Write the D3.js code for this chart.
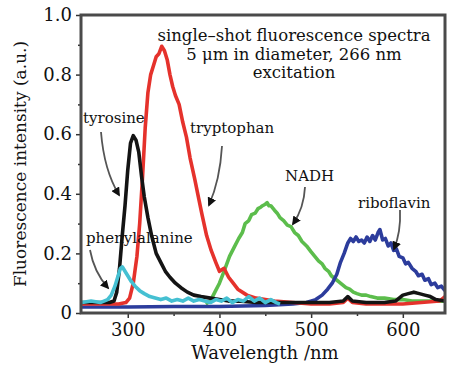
<!DOCTYPE html>
<html>
<head>
<meta charset="utf-8">
<script src="https://cdn.jsdelivr.net/npm/d3@7"></script>
<style>
  body { margin: 0; background: #fff; }
  text { font-family: "DejaVu Serif", serif; fill: #111; }
</style>
</head>
<body>
<svg id="chart" width="455" height="367"></svg>
<script>
// spectra (wavelength nm, intensity a.u.)
const tyrosineNm  = [250,260,270,280,285,288,291,294,297,300,303,306,309,312,315,318,322,326,331,336,341,346,352,358,365,372,380,390,400,410,420,440,460,480,500,520,535,540,545,560,580,592,600,606,612,618,624,630,636,646];
const tyrosineVal = [0.035,0.035,0.035,0.035,0.04,0.07,0.15,0.26,0.36,0.48,0.57,0.595,0.58,0.54,0.46,0.39,0.32,0.26,0.2,0.17,0.14,0.12,0.1,0.085,0.07,0.06,0.055,0.05,0.045,0.04,0.04,0.035,0.035,0.035,0.035,0.035,0.04,0.055,0.04,0.035,0.035,0.04,0.06,0.065,0.07,0.065,0.06,0.055,0.045,0.04];

const tryptophanNm  = [250,270,290,298,302,306,310,313,316,319,322,325,328,331,334,337,340,343,346,349,352,356,360,364,368,373,377,381,386,391,396,400,405,410,415,420,430,440,450,460,480,500,520,535,540,545,560,580,600,620,640,646];
const tryptophanVal = [0.03,0.03,0.03,0.035,0.05,0.1,0.19,0.3,0.45,0.62,0.74,0.8,0.83,0.86,0.87,0.895,0.88,0.85,0.8,0.76,0.73,0.7,0.64,0.59,0.52,0.45,0.39,0.33,0.26,0.21,0.17,0.14,0.15,0.12,0.1,0.08,0.06,0.05,0.045,0.04,0.035,0.03,0.03,0.035,0.05,0.035,0.03,0.03,0.03,0.035,0.04,0.055];

const phenylNm  = [250,260,270,278,282,286,289,292,294,297,300,304,308,313,318,324,330,336,342,348,354,360,366,372,378,384,390,396,402,408,414,420,426,432,438,444,450,456,462,466];
const phenylVal = [0.035,0.04,0.035,0.045,0.06,0.09,0.12,0.15,0.155,0.14,0.125,0.105,0.09,0.075,0.065,0.055,0.05,0.045,0.05,0.04,0.045,0.04,0.05,0.04,0.045,0.04,0.035,0.045,0.04,0.05,0.035,0.045,0.04,0.055,0.04,0.05,0.035,0.045,0.035,0.03];

const nadhNm  = [385,390,395,400,405,411,416,421,425,428,432,435,439,442,445,447,450,452,454,456,460,463,466,470,474,478,482,486,490,495,500,504,508,512,515,519,522,526,530,534,538,542,546,550,555,560,565,572,580,590,600,610,620,632,646];
const nadhVal = [0.03,0.04,0.07,0.1,0.14,0.19,0.22,0.25,0.27,0.3,0.31,0.33,0.335,0.35,0.355,0.36,0.365,0.37,0.36,0.36,0.345,0.335,0.32,0.31,0.295,0.29,0.27,0.26,0.24,0.225,0.205,0.19,0.175,0.165,0.15,0.14,0.125,0.115,0.105,0.095,0.085,0.08,0.07,0.065,0.06,0.06,0.055,0.05,0.05,0.045,0.045,0.04,0.04,0.04,0.04];

const riboNm  = [250,300,350,400,450,480,495,505,512,518,523,528,532,536,540,543,546,549,552,555,558,561,564,567,570,573,575,578,581,584,587,590,593,596,600,603,606,610,614,617,621,624,628,631,635,638,642,646];
const riboVal = [0.02,0.02,0.022,0.022,0.025,0.03,0.035,0.045,0.06,0.08,0.1,0.13,0.17,0.2,0.235,0.25,0.24,0.255,0.24,0.245,0.235,0.255,0.24,0.26,0.245,0.27,0.28,0.245,0.25,0.225,0.235,0.21,0.215,0.19,0.185,0.165,0.17,0.15,0.14,0.125,0.13,0.11,0.115,0.095,0.1,0.085,0.09,0.075];

const xTicks = [300, 400, 500, 600];
const xMinor = [350, 450, 550];
const yTicks = [0, 0.2, 0.4, 0.6, 0.8, 1.0];
const yMinor = [0.1, 0.3, 0.5, 0.7, 0.9];

const svg = d3.select("#chart");
const m = { left: 81, top: 15, right: 445, bottom: 313 };

const x = d3.scaleLinear().domain([249, 646]).range([m.left, m.right]);
const y = d3.scaleLinear().domain([0, 1]).range([m.bottom, m.top]);

const zip = (a, b) => a.map((v, i) => [v, b[i]]);
const line = d3.line().x(d => x(d[0])).y(d => y(d[1]));

svg.append("clipPath").attr("id", "plot")
  .append("rect").attr("x", m.left).attr("y", m.top)
  .attr("width", m.right - m.left).attr("height", m.bottom - m.top);

const series = [
  { nm: nadhNm, v: nadhVal, color: "#5cbd4c" },
  { nm: riboNm, v: riboVal, color: "#2c3c9c" },
  { nm: tryptophanNm, v: tryptophanVal, color: "#e5322c" },
  { nm: tyrosineNm, v: tyrosineVal, color: "#141414" },
  { nm: phenylNm, v: phenylVal, color: "#45c0d2" }
];

svg.append("g").attr("clip-path", "url(#plot)")
  .selectAll("path")
  .data(series)
  .enter()
  .append("path")
  .attr("d", s => line(zip(s.nm, s.v)))
  .attr("fill", "none")
  .attr("stroke", s => s.color)
  .attr("stroke-width", 3.6)
  .attr("stroke-linejoin", "round");

// axes
svg.append("g").attr("transform", "translate(0," + m.bottom + ")")
  .call(d3.axisBottom(x).tickValues(xTicks).tickSize(5).tickPadding(5).tickFormat(d3.format("d")));
svg.append("g").attr("transform", "translate(0," + m.bottom + ")")
  .call(d3.axisBottom(x).tickValues(xMinor).tickSize(3).tickFormat(""));

svg.append("g").attr("transform", "translate(" + m.left + ",0)")
  .call(d3.axisLeft(y).tickValues(yTicks).tickSize(5).tickPadding(4)
    .tickFormat(d => d === 0 ? "0" : d3.format(".1f")(d)));
svg.append("g").attr("transform", "translate(" + m.left + ",0)")
  .call(d3.axisLeft(y).tickValues(yMinor).tickSize(3).tickFormat(""));

svg.selectAll(".domain").remove();
svg.selectAll(".tick line").attr("stroke", "#333").attr("stroke-width", 1.5);
svg.selectAll(".tick text").style("font-family", "DejaVu Serif").style("font-size", "18px").attr("fill", "#111");

// frame
svg.append("rect")
  .attr("x", m.left).attr("y", m.top).attr("width", m.right - m.left).attr("height", m.bottom - m.top)
  .attr("fill", "none").attr("stroke", "#4a4a4a").attr("stroke-width", 3);

// axis titles
svg.append("text").attr("x", 265).attr("y", 359).attr("text-anchor", "middle")
  .style("font-size", "18px").text("Wavelength /nm");
svg.append("text").attr("transform", "translate(26,164) rotate(-90)").attr("text-anchor", "middle")
  .style("font-size", "17px").text("Fluorescence intensity (a.u.)");

// caption
const caption = ["single\u2013shot fluorescence spectra", "5 \u03bcm in diameter, 266 nm", "excitation"];
svg.append("g").selectAll("text").data(caption).enter().append("text")
  .attr("x", 294).attr("y", (d, i) => 41 + i * 18.5).attr("text-anchor", "middle")
  .style("font-size", "16.5px").text(d => d);

// labels
const labels = [
  { t: "tyrosine", x: 83, y: 123 },
  { t: "tryptophan", x: 190, y: 133 },
  { t: "NADH", x: 285, y: 181 },
  { t: "riboflavin", x: 358, y: 208 },
  { t: "phenylalanine", x: 86, y: 243 }
];
svg.append("g").selectAll("text").data(labels).enter().append("text")
  .attr("x", d => d.x).attr("y", d => d.y)
  .style("font-size", "15px").text(d => d.t);

// arrows
svg.append("defs").append("marker")
  .attr("id", "head").attr("viewBox", "0 0 10 10").attr("refX", 8).attr("refY", 5)
  .attr("markerWidth", 5).attr("markerHeight", 5).attr("orient", "auto")
  .append("path").attr("d", "M0,0L10,5L0,10z").attr("fill", "#111");

const arrows = [
  [[101, 132], [104, 170], [119, 195]],
  [[222, 146], [220, 180], [209, 205]],
  [[305, 187], [304, 208], [293, 224]],
  [[400, 210], [401, 232], [394, 249]],
  [[90, 250], [94, 272], [108, 288]]
];
svg.append("g").selectAll("path").data(arrows).enter().append("path")
  .attr("d", p => {
    const ph = d3.path();
    ph.moveTo(p[0][0], p[0][1]);
    ph.quadraticCurveTo(p[1][0], p[1][1], p[2][0], p[2][1]);
    return ph.toString();
  })
  .attr("fill", "none").attr("stroke", "#555").attr("stroke-width", 1.8)
  .attr("marker-end", "url(#head)");
</script>
</body>
</html>
